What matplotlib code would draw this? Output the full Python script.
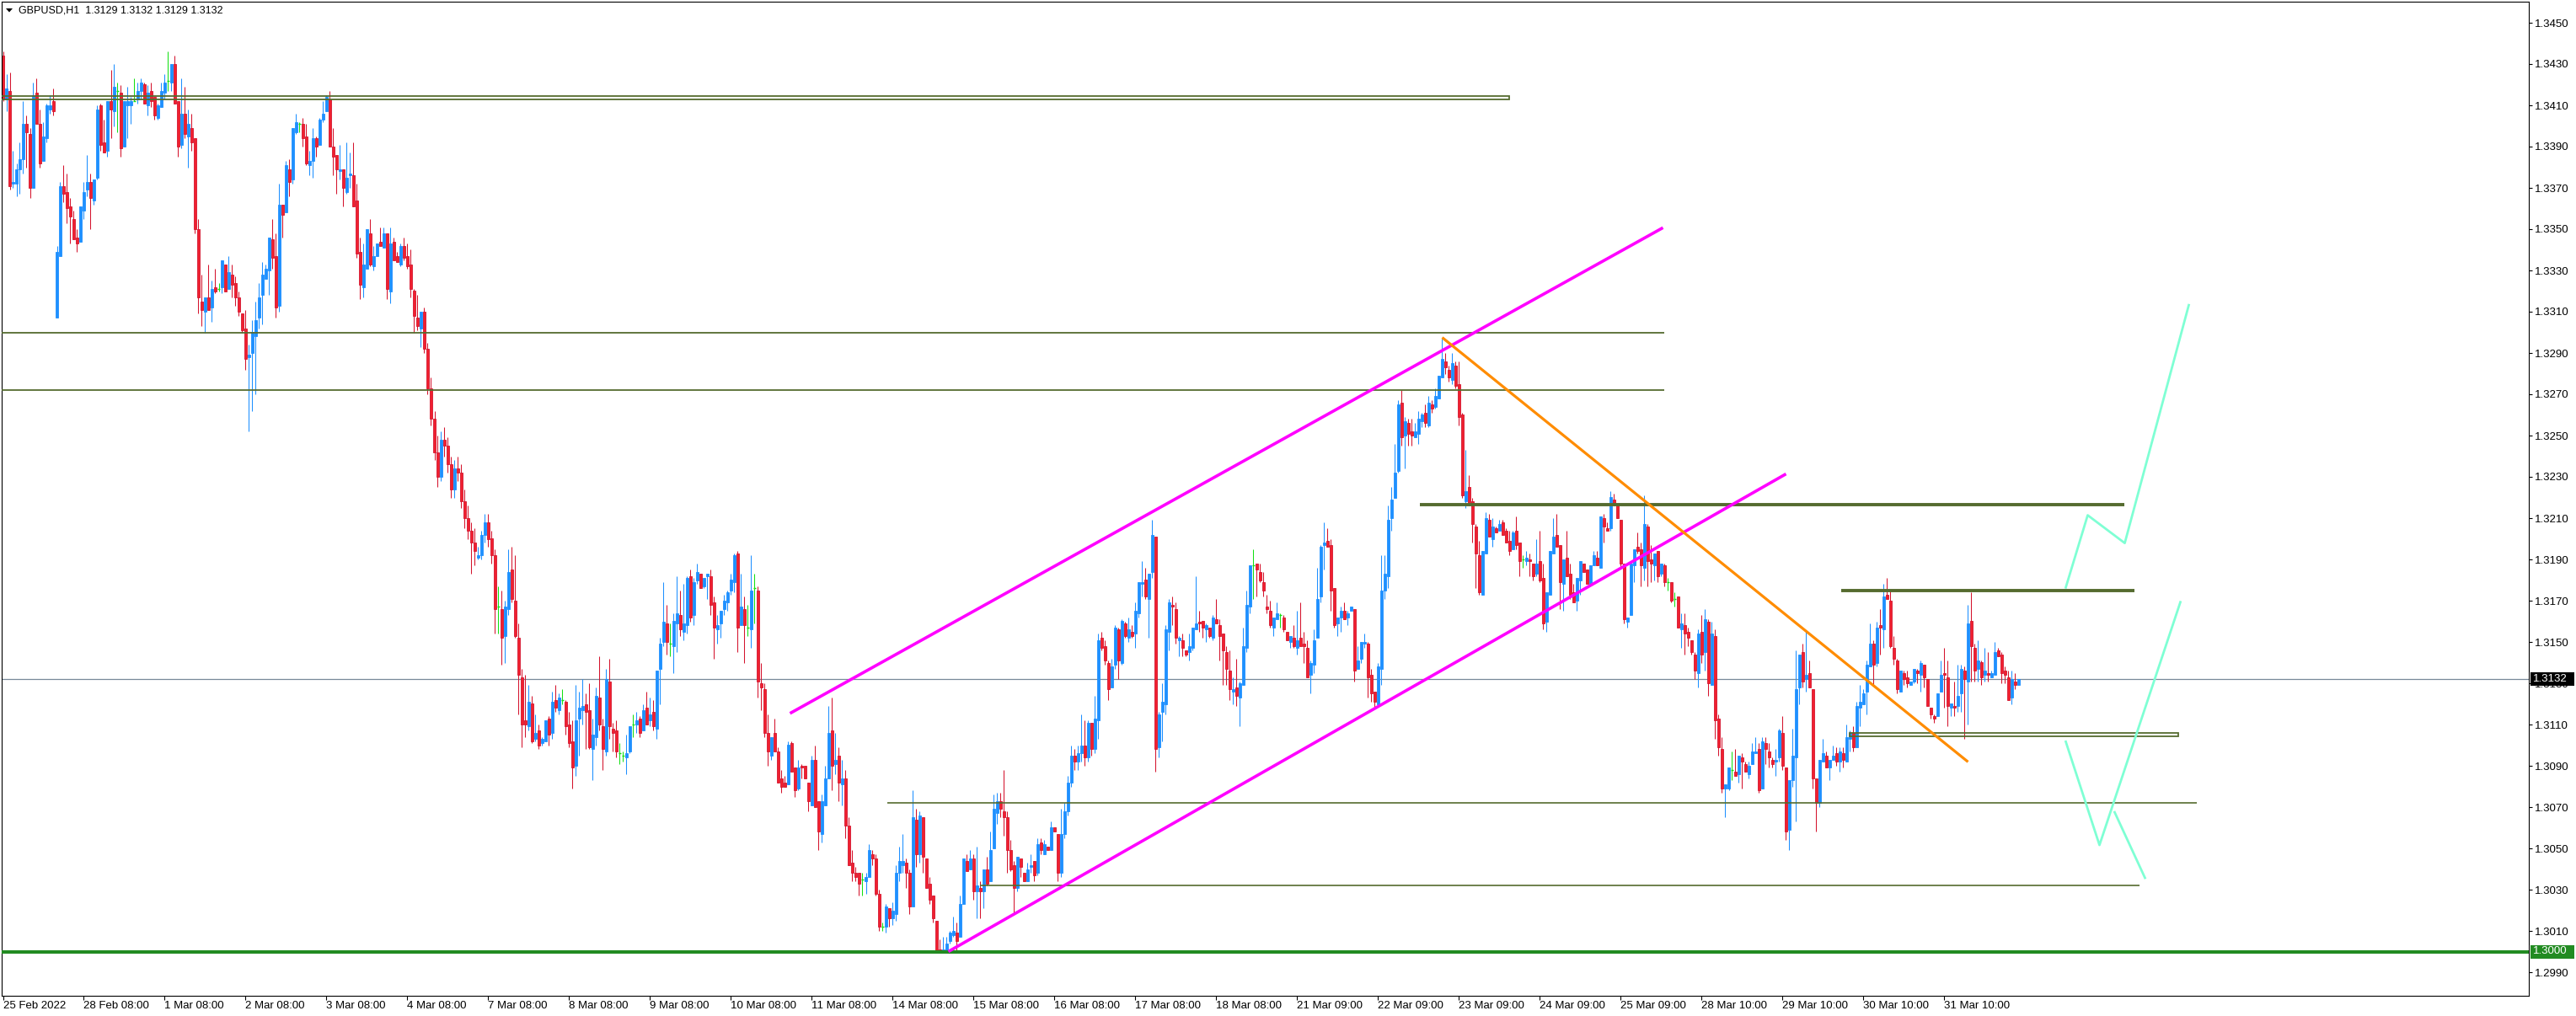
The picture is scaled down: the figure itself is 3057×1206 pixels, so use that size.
import matplotlib
matplotlib.use("Agg")
import matplotlib.pyplot as plt
import matplotlib.transforms as mtransforms
from matplotlib.patches import Rectangle, Polygon

plt.rcParams["font.family"] = ["Liberation Sans", "DejaVu Sans"]

# ====== Dados ================================================================

symbol = "GBPUSD,H1"

time_labels = [
    "25 Feb 2022", "28 Feb 08:00", "1 Mar 08:00", "2 Mar 08:00", "3 Mar 08:00",
    "4 Mar 08:00", "7 Mar 08:00", "8 Mar 08:00", "9 Mar 08:00", "10 Mar 08:00",
    "11 Mar 08:00", "14 Mar 08:00", "15 Mar 08:00", "16 Mar 08:00", "17 Mar 08:00",
    "18 Mar 08:00", "21 Mar 09:00", "22 Mar 09:00", "23 Mar 09:00", "24 Mar 09:00",
    "25 Mar 09:00", "28 Mar 10:00", "29 Mar 10:00", "30 Mar 10:00", "31 Mar 10:00",
]
bars_per_label = 24

price_ticks = [
    1.2990, 1.3010, 1.3030, 1.3050, 1.3070, 1.3090, 1.3110, 1.3130, 1.3150, 1.3170,
    1.3190, 1.3210, 1.3230, 1.3250, 1.3270, 1.3290, 1.3310, 1.3330, 1.3350, 1.3370,
    1.3390, 1.3410, 1.3430, 1.3450,
]

opens = [
    1.3434, 1.3413, 1.3417, 1.3372, 1.3372, 1.3379, 1.3384, 1.3401, 1.3396, 1.3370, 1.3416, 1.3401, 1.3383, 1.3394, 1.3408, 1.3412, 1.3307, 1.3337, 1.3371, 1.3368,
    1.3361, 1.3355, 1.3346, 1.3344, 1.3359, 1.3369, 1.3373, 1.3364, 1.3375, 1.3410, 1.3392, 1.3388, 1.3412, 1.3407, 1.3417, 1.3416, 1.3390, 1.3410, 1.3410, 1.3412,
    1.3413, 1.3417, 1.3420, 1.3410, 1.3417, 1.3414, 1.3404, 1.3409, 1.3416, 1.3422, 1.3421, 1.3430, 1.3412, 1.3391, 1.3406, 1.3395, 1.3399, 1.3394, 1.3350, 1.3315,
    1.3310, 1.3317, 1.3312, 1.3322, 1.3321, 1.3322, 1.3333, 1.3321, 1.3328, 1.3324, 1.3317, 1.3309, 1.3302, 1.3288, 1.3290, 1.3298, 1.3307, 1.3318, 1.3326, 1.3330,
    1.3345, 1.3337, 1.3313, 1.3362, 1.3358, 1.3379, 1.3374, 1.3397, 1.3401, 1.3401, 1.3395, 1.3381, 1.3383, 1.3394, 1.3391, 1.3403, 1.3407, 1.3413, 1.3390, 1.3386,
    1.3378, 1.3379, 1.3368, 1.3376, 1.3376, 1.3364, 1.3339, 1.3322, 1.3331, 1.3348, 1.3332, 1.3337, 1.3344, 1.3341, 1.3348, 1.3320, 1.3344, 1.3337, 1.3333, 1.3342,
    1.3337, 1.3333, 1.3320, 1.3307, 1.3302, 1.3310, 1.3292, 1.3273, 1.3258, 1.3242, 1.3230, 1.3248, 1.3245, 1.3236, 1.3224, 1.3234, 1.3232, 1.3218, 1.3210, 1.3204,
    1.3198, 1.3191, 1.3192, 1.3202, 1.3208, 1.3200, 1.3192, 1.3167, 1.3166, 1.3153, 1.3166, 1.3185, 1.3170, 1.3152, 1.3133, 1.3112, 1.3109, 1.3120, 1.3103, 1.3107,
    1.3101, 1.3102, 1.3113, 1.3106, 1.3122, 1.3117, 1.3122, 1.3121, 1.3110, 1.3102, 1.3090, 1.3113, 1.3117, 1.3120, 1.3117, 1.3098, 1.3104, 1.3123, 1.3109, 1.3097,
    1.3131, 1.3108, 1.3107, 1.3096, 1.3095, 1.3094, 1.3097, 1.3110, 1.3110, 1.3113, 1.3107, 1.3118, 1.3112, 1.3116, 1.3108, 1.3137, 1.3150, 1.3159, 1.3149, 1.3148,
    1.3159, 1.3163, 1.3155, 1.3158, 1.3182, 1.3163, 1.3180, 1.3183, 1.3177, 1.3182, 1.3182, 1.3169, 1.3156, 1.3159, 1.3166, 1.3169, 1.3175, 1.3179, 1.3193, 1.3158,
    1.3166, 1.3157, 1.3156, 1.3176, 1.3175, 1.3130, 1.3127, 1.3106, 1.3095, 1.3106, 1.3097, 1.3084, 1.3082, 1.3081, 1.3101, 1.3089, 1.3079, 1.3090, 1.3090, 1.3082,
    1.3071, 1.3093, 1.3073, 1.3057, 1.3071, 1.3084, 1.3107, 1.3091, 1.3095, 1.3081, 1.3084, 1.3061, 1.3043, 1.3038, 1.3038, 1.3035, 1.3034, 1.3036, 1.3047, 1.3045,
    1.3028, 1.3012, 1.3012, 1.3021, 1.3016, 1.3018, 1.3038, 1.3042, 1.3043, 1.3038, 1.3022, 1.3064, 1.3047, 1.3065, 1.3045, 1.3033, 1.3027, 1.3015, 1.3001, 1.3000,
    1.3000, 1.3005, 1.3008, 1.3009, 1.3007, 1.3023, 1.3044, 1.3040, 1.3045, 1.3029, 1.3031, 1.3029, 1.3040, 1.3034, 1.3050, 1.3067, 1.3073, 1.3068, 1.3065, 1.3049,
    1.3042, 1.3031, 1.3045, 1.3038, 1.3034, 1.3041, 1.3044, 1.3038, 1.3053, 1.3047, 1.3051, 1.3049, 1.3060, 1.3057, 1.3038, 1.3057, 1.3068, 1.3082, 1.3095, 1.3092,
    1.3096, 1.3100, 1.3094, 1.3111, 1.3098, 1.3112, 1.3152, 1.3148, 1.3140, 1.3128, 1.3139, 1.3156, 1.3140, 1.3159, 1.3152, 1.3155, 1.3154, 1.3164, 1.3178, 1.3180,
    1.3171, 1.3184, 1.3201, 1.3099, 1.3116, 1.3120, 1.3155, 1.3168, 1.3166, 1.3151, 1.3151, 1.3146, 1.3145, 1.3147, 1.3156, 1.3160, 1.3160, 1.3156, 1.3157, 1.3152,
    1.3161, 1.3158, 1.3154, 1.3145, 1.3136, 1.3126, 1.3128, 1.3123, 1.3129, 1.3147, 1.3167, 1.3187, 1.3188, 1.3184, 1.3179, 1.3167, 1.3165, 1.3157, 1.3161, 1.3163,
    1.3162, 1.3155, 1.3150, 1.3152, 1.3147, 1.3152, 1.3149, 1.3147, 1.3134, 1.3139, 1.3152, 1.3172, 1.3197, 1.3199, 1.3197, 1.3176, 1.3159, 1.3162, 1.3165, 1.3162,
    1.3165, 1.3166, 1.3137, 1.3142, 1.3149, 1.3149, 1.3134, 1.3126, 1.3120, 1.3137, 1.3175, 1.3182, 1.3210, 1.3220, 1.3233, 1.3266, 1.3250, 1.3256, 1.3252, 1.3249,
    1.3251, 1.3257, 1.3261, 1.3255, 1.3265, 1.3264, 1.3268, 1.3278, 1.3286, 1.3282, 1.3277, 1.3284, 1.3275, 1.3260, 1.3218, 1.3225, 1.3218, 1.3206, 1.3192, 1.3173,
    1.3193, 1.3209, 1.3200, 1.3205, 1.3204, 1.3208, 1.3204, 1.3199, 1.3195, 1.3204, 1.3198, 1.3190, 1.3189, 1.3190, 1.3188, 1.3183, 1.3189, 1.3181, 1.3160, 1.3173,
    1.3193, 1.3202, 1.3197, 1.3178, 1.3191, 1.3183, 1.3174, 1.3170, 1.3180, 1.3188, 1.3185, 1.3178, 1.3187, 1.3191, 1.3186, 1.3210, 1.3205, 1.3205, 1.3219, 1.3217,
    1.3209, 1.3188, 1.3160, 1.3163, 1.3187, 1.3196, 1.3195, 1.3186, 1.3206, 1.3190, 1.3187, 1.3194, 1.3183, 1.3187, 1.3179, 1.3179, 1.3171, 1.3172, 1.3156, 1.3158,
    1.3155, 1.3151, 1.3144, 1.3135, 1.3155, 1.3145, 1.3160, 1.3129, 1.3153, 1.3113, 1.3098, 1.3079, 1.3079, 1.3088, 1.3087, 1.3086, 1.3094, 1.3091, 1.3086, 1.3091,
    1.3096, 1.3098, 1.3079, 1.3101, 1.3097, 1.3093, 1.3092, 1.3094, 1.3106, 1.3089, 1.3059, 1.3083, 1.3094, 1.3128, 1.3145, 1.3132, 1.3135, 1.3127, 1.3084, 1.3072,
    1.3092, 1.3095, 1.3089, 1.3093, 1.3096, 1.3092, 1.3096, 1.3092, 1.3103, 1.3106, 1.3099, 1.3118, 1.3120, 1.3126, 1.3138, 1.3149, 1.3140, 1.3158, 1.3156, 1.3173,
    1.3170, 1.3147, 1.3141, 1.3126, 1.3135, 1.3133, 1.3129, 1.3131, 1.3136, 1.3134, 1.3139, 1.3132, 1.3118, 1.3114, 1.3114, 1.3126, 1.3135, 1.3133, 1.3118, 1.3119,
    1.3119, 1.3125, 1.3136, 1.3131, 1.3160, 1.3147, 1.3137, 1.3140, 1.3134, 1.3135, 1.3133, 1.3134, 1.3146, 1.3144, 1.3136, 1.3133, 1.3123, 1.3131, 1.3129,
]

highs = [
    1.3436, 1.3425, 1.3426, 1.3388, 1.3382, 1.3392, 1.3412, 1.3405, 1.3399, 1.3421, 1.3423, 1.3408, 1.3402, 1.3411, 1.3415, 1.3418, 1.3342, 1.3373, 1.3381, 1.3377,
    1.3365, 1.3359, 1.3350, 1.3361, 1.3373, 1.3386, 1.3377, 1.3374, 1.3410, 1.3411, 1.3403, 1.3412, 1.3427, 1.3430, 1.3421, 1.3420, 1.3412, 1.3419, 1.3414, 1.3423,
    1.3421, 1.3423, 1.3421, 1.3420, 1.3421, 1.3414, 1.3411, 1.3421, 1.3425, 1.3436, 1.3430, 1.3434, 1.3412, 1.3423, 1.3419, 1.3408, 1.3406, 1.3394, 1.3355, 1.3328,
    1.3317, 1.3333, 1.3325, 1.3331, 1.3324, 1.3335, 1.3333, 1.3337, 1.3333, 1.3327, 1.3320, 1.3309, 1.3311, 1.3294, 1.3306, 1.3315, 1.3324, 1.3334, 1.3333, 1.3346,
    1.3355, 1.3348, 1.3372, 1.3362, 1.3383, 1.3384, 1.3399, 1.3406, 1.3402, 1.3404, 1.3401, 1.3388, 1.3399, 1.3395, 1.3404, 1.3412, 1.3415, 1.3417, 1.3399, 1.3386,
    1.3391, 1.3379, 1.3392, 1.3387, 1.3392, 1.3372, 1.3346, 1.3343, 1.3350, 1.3355, 1.3342, 1.3343, 1.3351, 1.3351, 1.3348, 1.3351, 1.3346, 1.3339, 1.3343, 1.3346,
    1.3343, 1.3340, 1.3321, 1.3318, 1.3310, 1.3312, 1.3295, 1.3278, 1.3262, 1.3250, 1.3252, 1.3254, 1.3249, 1.3240, 1.3238, 1.3240, 1.3236, 1.3224, 1.3216, 1.3208,
    1.3205, 1.3196, 1.3204, 1.3212, 1.3212, 1.3204, 1.3195, 1.3177, 1.3175, 1.3170, 1.3195, 1.3196, 1.3192, 1.3159, 1.3137, 1.3134, 1.3129, 1.3124, 1.3115, 1.3110,
    1.3104, 1.3112, 1.3114, 1.3126, 1.3129, 1.3125, 1.3127, 1.3122, 1.3116, 1.3112, 1.3129, 1.3126, 1.3132, 1.3125, 1.3130, 1.3113, 1.3128, 1.3143, 1.3113, 1.3137,
    1.3142, 1.3111, 1.3112, 1.3101, 1.3097, 1.3105, 1.3109, 1.3115, 1.3116, 1.3114, 1.3120, 1.3126, 1.3123, 1.3122, 1.3136, 1.3152, 1.3179, 1.3168, 1.3159, 1.3164,
    1.3182, 1.3175, 1.3178, 1.3182, 1.3185, 1.3181, 1.3188, 1.3183, 1.3181, 1.3183, 1.3185, 1.3172, 1.3163, 1.3165, 1.3173, 1.3175, 1.3183, 1.3193, 1.3194, 1.3183,
    1.3172, 1.3168, 1.3192, 1.3183, 1.3177, 1.3140, 1.3130, 1.3115, 1.3104, 1.3113, 1.3099, 1.3088, 1.3085, 1.3102, 1.3102, 1.3089, 1.3093, 1.3091, 1.3090, 1.3082,
    1.3095, 1.3100, 1.3073, 1.3076, 1.3090, 1.3119, 1.3123, 1.3106, 1.3099, 1.3093, 1.3088, 1.3065, 1.3049, 1.3041, 1.3038, 1.3038, 1.3038, 1.3052, 1.3049, 1.3047,
    1.3030, 1.3014, 1.3023, 1.3021, 1.3024, 1.3042, 1.3051, 1.3057, 1.3045, 1.3040, 1.3078, 1.3069, 1.3068, 1.3065, 1.3045, 1.3036, 1.3027, 1.3015, 1.3006, 1.3007,
    1.3007, 1.3010, 1.3017, 1.3014, 1.3027, 1.3045, 1.3047, 1.3049, 1.3047, 1.3051, 1.3034, 1.3040, 1.3046, 1.3058, 1.3076, 1.3077, 1.3077, 1.3088, 1.3068, 1.3054,
    1.3044, 1.3046, 1.3045, 1.3038, 1.3043, 1.3047, 1.3044, 1.3055, 1.3055, 1.3054, 1.3051, 1.3063, 1.3060, 1.3057, 1.3069, 1.3072, 1.3085, 1.3100, 1.3098, 1.3100,
    1.3115, 1.3112, 1.3112, 1.3111, 1.3124, 1.3154, 1.3155, 1.3151, 1.3141, 1.3142, 1.3158, 1.3157, 1.3161, 1.3160, 1.3162, 1.3158, 1.3169, 1.3179, 1.3189, 1.3186,
    1.3183, 1.3209, 1.3201, 1.3116, 1.3130, 1.3158, 1.3171, 1.3172, 1.3169, 1.3153, 1.3154, 1.3146, 1.3154, 1.3157, 1.3182, 1.3165, 1.3160, 1.3159, 1.3157, 1.3163,
    1.3171, 1.3161, 1.3154, 1.3148, 1.3146, 1.3133, 1.3142, 1.3131, 1.3157, 1.3175, 1.3187, 1.3195, 1.3188, 1.3188, 1.3184, 1.3173, 1.3170, 1.3162, 1.3169, 1.3164,
    1.3163, 1.3155, 1.3153, 1.3158, 1.3165, 1.3169, 1.3155, 1.3151, 1.3141, 1.3156, 1.3186, 1.3197, 1.3208, 1.3205, 1.3200, 1.3176, 1.3162, 1.3167, 1.3169, 1.3165,
    1.3167, 1.3166, 1.3148, 1.3150, 1.3154, 1.3150, 1.3137, 1.3126, 1.3140, 1.3192, 1.3192, 1.3216, 1.3225, 1.3246, 1.3267, 1.3272, 1.3259, 1.3258, 1.3258, 1.3256,
    1.3262, 1.3261, 1.3265, 1.3269, 1.3267, 1.3273, 1.3279, 1.3297, 1.3290, 1.3284, 1.3290, 1.3286, 1.3286, 1.3261, 1.3243, 1.3231, 1.3220, 1.3207, 1.3199, 1.3194,
    1.3213, 1.3212, 1.3210, 1.3206, 1.3209, 1.3209, 1.3205, 1.3204, 1.3204, 1.3211, 1.3198, 1.3192, 1.3194, 1.3193, 1.3188, 1.3200, 1.3204, 1.3188, 1.3174, 1.3194,
    1.3210, 1.3212, 1.3197, 1.3190, 1.3204, 1.3188, 1.3178, 1.3181, 1.3189, 1.3188, 1.3185, 1.3187, 1.3194, 1.3194, 1.3211, 1.3212, 1.3208, 1.3223, 1.3222, 1.3217,
    1.3209, 1.3188, 1.3162, 1.3188, 1.3195, 1.3203, 1.3198, 1.3221, 1.3207, 1.3197, 1.3193, 1.3194, 1.3188, 1.3188, 1.3181, 1.3179, 1.3174, 1.3172, 1.3164, 1.3164,
    1.3157, 1.3151, 1.3145, 1.3156, 1.3163, 1.3166, 1.3161, 1.3160, 1.3156, 1.3115, 1.3104, 1.3081, 1.3089, 1.3097, 1.3098, 1.3095, 1.3096, 1.3092, 1.3092, 1.3101,
    1.3104, 1.3101, 1.3104, 1.3104, 1.3101, 1.3094, 1.3098, 1.3108, 1.3114, 1.3089, 1.3083, 1.3108, 1.3146, 1.3144, 1.3149, 1.3155, 1.3141, 1.3127, 1.3084, 1.3093,
    1.3103, 1.3097, 1.3093, 1.3100, 1.3099, 1.3099, 1.3099, 1.3110, 1.3107, 1.3109, 1.3121, 1.3129, 1.3127, 1.3141, 1.3159, 1.3151, 1.3160, 1.3166, 1.3178, 1.3181,
    1.3175, 1.3153, 1.3142, 1.3136, 1.3136, 1.3136, 1.3131, 1.3137, 1.3137, 1.3141, 1.3139, 1.3132, 1.3118, 1.3115, 1.3125, 1.3141, 1.3147, 1.3141, 1.3120, 1.3131,
    1.3139, 1.3139, 1.3138, 1.3168, 1.3174, 1.3149, 1.3151, 1.3141, 1.3147, 1.3145, 1.3136, 1.3150, 1.3147, 1.3145, 1.3138, 1.3136, 1.3136, 1.3135, 1.3132,
]

lows = [
    1.3412, 1.3407, 1.3369, 1.3370, 1.3366, 1.3367, 1.3377, 1.3380, 1.3365, 1.3370, 1.3401, 1.3380, 1.3383, 1.3392, 1.3406, 1.3405, 1.3307, 1.3337, 1.3363, 1.3353,
    1.3343, 1.3345, 1.3339, 1.3344, 1.3355, 1.3366, 1.3350, 1.3362, 1.3374, 1.3388, 1.3387, 1.3385, 1.3394, 1.3400, 1.3397, 1.3385, 1.3390, 1.3394, 1.3401, 1.3412,
    1.3411, 1.3413, 1.3411, 1.3405, 1.3409, 1.3403, 1.3403, 1.3409, 1.3413, 1.3417, 1.3417, 1.3411, 1.3385, 1.3389, 1.3394, 1.3380, 1.3388, 1.3348, 1.3309, 1.3303,
    1.3300, 1.3311, 1.3305, 1.3319, 1.3320, 1.3319, 1.3320, 1.3321, 1.3317, 1.3313, 1.3308, 1.3300, 1.3282, 1.3252, 1.3262, 1.3270, 1.3302, 1.3304, 1.3326, 1.3318,
    1.3331, 1.3307, 1.3310, 1.3346, 1.3358, 1.3366, 1.3372, 1.3396, 1.3397, 1.3390, 1.3381, 1.3376, 1.3375, 1.3385, 1.3391, 1.3402, 1.3407, 1.3390, 1.3376, 1.3367,
    1.3374, 1.3361, 1.3367, 1.3370, 1.3361, 1.3336, 1.3316, 1.3317, 1.3331, 1.3332, 1.3330, 1.3337, 1.3342, 1.3341, 1.3316, 1.3314, 1.3335, 1.3334, 1.3332, 1.3335,
    1.3331, 1.3317, 1.3300, 1.3301, 1.3293, 1.3290, 1.3270, 1.3255, 1.3238, 1.3225, 1.3228, 1.3240, 1.3232, 1.3220, 1.3220, 1.3228, 1.3215, 1.3205, 1.3200, 1.3183,
    1.3187, 1.3190, 1.3190, 1.3198, 1.3196, 1.3188, 1.3154, 1.3154, 1.3139, 1.3140, 1.3163, 1.3169, 1.3152, 1.3115, 1.3099, 1.3104, 1.3107, 1.3101, 1.3102, 1.3098,
    1.3100, 1.3102, 1.3100, 1.3103, 1.3116, 1.3115, 1.3120, 1.3105, 1.3099, 1.3079, 1.3085, 1.3095, 1.3110, 1.3098, 1.3098, 1.3083, 1.3100, 1.3107, 1.3088, 1.3095,
    1.3103, 1.3097, 1.3094, 1.3091, 1.3092, 1.3086, 1.3096, 1.3104, 1.3106, 1.3104, 1.3107, 1.3110, 1.3109, 1.3107, 1.3103, 1.3120, 1.3148, 1.3144, 1.3143, 1.3135,
    1.3145, 1.3153, 1.3151, 1.3154, 1.3160, 1.3158, 1.3178, 1.3176, 1.3176, 1.3171, 1.3163, 1.3142, 1.3149, 1.3152, 1.3163, 1.3165, 1.3173, 1.3174, 1.3145, 1.3158,
    1.3140, 1.3153, 1.3147, 1.3159, 1.3123, 1.3117, 1.3104, 1.3090, 1.3093, 1.3097, 1.3082, 1.3077, 1.3080, 1.3081, 1.3087, 1.3075, 1.3078, 1.3084, 1.3084, 1.3068,
    1.3071, 1.3070, 1.3049, 1.3053, 1.3071, 1.3084, 1.3078, 1.3086, 1.3073, 1.3071, 1.3055, 1.3042, 1.3034, 1.3034, 1.3027, 1.3027, 1.3028, 1.3036, 1.3042, 1.3027,
    1.3010, 1.3010, 1.3009, 1.3012, 1.3013, 1.3015, 1.3034, 1.3038, 1.3031, 1.3018, 1.3022, 1.3041, 1.3043, 1.3038, 1.3031, 1.3023, 1.3014, 1.3000, 1.3000, 1.3000,
    1.3000, 1.3004, 1.3007, 1.3000, 1.3007, 1.3023, 1.3039, 1.3040, 1.3025, 1.3016, 1.3016, 1.3021, 1.3032, 1.3034, 1.3050, 1.3062, 1.3065, 1.3056, 1.3038, 1.3039,
    1.3019, 1.3029, 1.3036, 1.3034, 1.3034, 1.3038, 1.3034, 1.3037, 1.3047, 1.3047, 1.3049, 1.3049, 1.3058, 1.3034, 1.3036, 1.3055, 1.3066, 1.3080, 1.3088, 1.3088,
    1.3092, 1.3090, 1.3092, 1.3095, 1.3096, 1.3103, 1.3146, 1.3139, 1.3122, 1.3128, 1.3137, 1.3132, 1.3139, 1.3152, 1.3150, 1.3152, 1.3147, 1.3162, 1.3172, 1.3171,
    1.3152, 1.3181, 1.3087, 1.3094, 1.3102, 1.3115, 1.3146, 1.3158, 1.3149, 1.3143, 1.3143, 1.3143, 1.3141, 1.3146, 1.3156, 1.3155, 1.3152, 1.3150, 1.3152, 1.3151,
    1.3159, 1.3141, 1.3129, 1.3129, 1.3122, 1.3120, 1.3119, 1.3109, 1.3129, 1.3145, 1.3164, 1.3171, 1.3172, 1.3179, 1.3172, 1.3164, 1.3157, 1.3153, 1.3161, 1.3157,
    1.3155, 1.3151, 1.3147, 1.3147, 1.3144, 1.3148, 1.3140, 1.3133, 1.3125, 1.3135, 1.3152, 1.3169, 1.3185, 1.3196, 1.3165, 1.3157, 1.3153, 1.3155, 1.3161, 1.3158,
    1.3165, 1.3131, 1.3137, 1.3140, 1.3147, 1.3123, 1.3121, 1.3118, 1.3120, 1.3129, 1.3171, 1.3176, 1.3204, 1.3220, 1.3232, 1.3245, 1.3234, 1.3245, 1.3245, 1.3249,
    1.3246, 1.3254, 1.3254, 1.3254, 1.3261, 1.3263, 1.3268, 1.3278, 1.3280, 1.3276, 1.3275, 1.3273, 1.3255, 1.3220, 1.3215, 1.3216, 1.3198, 1.3176, 1.3173, 1.3173,
    1.3193, 1.3201, 1.3196, 1.3203, 1.3204, 1.3202, 1.3198, 1.3192, 1.3195, 1.3195, 1.3182, 1.3186, 1.3187, 1.3182, 1.3180, 1.3182, 1.3179, 1.3156, 1.3155, 1.3173,
    1.3193, 1.3196, 1.3166, 1.3165, 1.3182, 1.3171, 1.3169, 1.3165, 1.3173, 1.3184, 1.3178, 1.3178, 1.3187, 1.3187, 1.3186, 1.3198, 1.3204, 1.3204, 1.3216, 1.3210,
    1.3186, 1.3159, 1.3157, 1.3163, 1.3179, 1.3193, 1.3177, 1.3180, 1.3177, 1.3179, 1.3180, 1.3179, 1.3182, 1.3177, 1.3175, 1.3169, 1.3167, 1.3157, 1.3147, 1.3144,
    1.3148, 1.3144, 1.3132, 1.3128, 1.3140, 1.3136, 1.3124, 1.3129, 1.3103, 1.3095, 1.3077, 1.3065, 1.3078, 1.3083, 1.3085, 1.3082, 1.3079, 1.3087, 1.3084, 1.3091,
    1.3096, 1.3077, 1.3079, 1.3091, 1.3089, 1.3089, 1.3085, 1.3092, 1.3088, 1.3054, 1.3049, 1.3080, 1.3063, 1.3120, 1.3128, 1.3126, 1.3128, 1.3079, 1.3058, 1.3070,
    1.3092, 1.3089, 1.3083, 1.3093, 1.3090, 1.3087, 1.3089, 1.3092, 1.3097, 1.3097, 1.3099, 1.3109, 1.3120, 1.3115, 1.3138, 1.3129, 1.3138, 1.3144, 1.3147, 1.3171,
    1.3147, 1.3139, 1.3125, 1.3126, 1.3129, 1.3128, 1.3129, 1.3130, 1.3130, 1.3126, 1.3128, 1.3119, 1.3113, 1.3111, 1.3114, 1.3126, 1.3118, 1.3109, 1.3114, 1.3114,
    1.3116, 1.3116, 1.3103, 1.3110, 1.3131, 1.3131, 1.3131, 1.3129, 1.3131, 1.3131, 1.3133, 1.3134, 1.3143, 1.3130, 1.3130, 1.3122, 1.3120, 1.3127, 1.3129,
]

closes = [
    1.3413, 1.3418, 1.3371, 1.3373, 1.3379, 1.3384, 1.3401, 1.3397, 1.3370, 1.3415, 1.3401, 1.3382, 1.3395, 1.3410, 1.3410, 1.3407, 1.3339, 1.3371, 1.3367, 1.3360,
    1.3356, 1.3345, 1.3343, 1.3361, 1.3368, 1.3373, 1.3365, 1.3374, 1.3408, 1.3391, 1.3387, 1.3412, 1.3408, 1.3419, 1.3417, 1.3389, 1.3412, 1.3412, 1.3412, 1.3412,
    1.3417, 1.3421, 1.3411, 1.3416, 1.3412, 1.3405, 1.3410, 1.3417, 1.3421, 1.3422, 1.3430, 1.3411, 1.3390, 1.3406, 1.3396, 1.3401, 1.3392, 1.3350, 1.3317, 1.3311,
    1.3317, 1.3311, 1.3321, 1.3320, 1.3321, 1.3335, 1.3320, 1.3329, 1.3323, 1.3317, 1.3310, 1.3301, 1.3287, 1.3289, 1.3300, 1.3306, 1.3317, 1.3328, 1.3331, 1.3346,
    1.3336, 1.3312, 1.3362, 1.3357, 1.3381, 1.3373, 1.3399, 1.3402, 1.3401, 1.3394, 1.3382, 1.3383, 1.3394, 1.3390, 1.3403, 1.3406, 1.3414, 1.3390, 1.3385, 1.3379,
    1.3379, 1.3370, 1.3375, 1.3377, 1.3361, 1.3338, 1.3323, 1.3333, 1.3350, 1.3333, 1.3337, 1.3343, 1.3342, 1.3348, 1.3321, 1.3343, 1.3335, 1.3334, 1.3342, 1.3336,
    1.3332, 1.3321, 1.3308, 1.3303, 1.3310, 1.3292, 1.3273, 1.3258, 1.3242, 1.3230, 1.3248, 1.3245, 1.3236, 1.3224, 1.3234, 1.3232, 1.3218, 1.3210, 1.3204, 1.3198,
    1.3194, 1.3192, 1.3202, 1.3208, 1.3200, 1.3192, 1.3166, 1.3167, 1.3152, 1.3167, 1.3184, 1.3171, 1.3153, 1.3134, 1.3110, 1.3110, 1.3121, 1.3102, 1.3106, 1.3100,
    1.3103, 1.3112, 1.3105, 1.3121, 1.3118, 1.3123, 1.3122, 1.3109, 1.3101, 1.3089, 1.3112, 1.3118, 1.3119, 1.3116, 1.3099, 1.3105, 1.3124, 1.3110, 1.3098, 1.3132,
    1.3109, 1.3106, 1.3097, 1.3096, 1.3095, 1.3096, 1.3109, 1.3110, 1.3112, 1.3106, 1.3117, 1.3110, 1.3115, 1.3109, 1.3136, 1.3149, 1.3160, 1.3150, 1.3149, 1.3160,
    1.3164, 1.3156, 1.3159, 1.3181, 1.3162, 1.3179, 1.3184, 1.3176, 1.3181, 1.3183, 1.3168, 1.3157, 1.3158, 1.3165, 1.3170, 1.3174, 1.3180, 1.3192, 1.3157, 1.3167,
    1.3158, 1.3157, 1.3175, 1.3176, 1.3131, 1.3128, 1.3106, 1.3097, 1.3104, 1.3097, 1.3082, 1.3080, 1.3080, 1.3100, 1.3087, 1.3078, 1.3089, 1.3089, 1.3084, 1.3073,
    1.3093, 1.3070, 1.3058, 1.3073, 1.3084, 1.3106, 1.3090, 1.3093, 1.3082, 1.3084, 1.3061, 1.3042, 1.3038, 1.3036, 1.3033, 1.3035, 1.3036, 1.3049, 1.3045, 1.3028,
    1.3012, 1.3012, 1.3022, 1.3016, 1.3020, 1.3038, 1.3044, 1.3044, 1.3038, 1.3022, 1.3065, 1.3047, 1.3066, 1.3046, 1.3031, 1.3025, 1.3016, 1.3000, 1.3000, 1.3001,
    1.3004, 1.3009, 1.3010, 1.3005, 1.3023, 1.3045, 1.3039, 1.3045, 1.3029, 1.3032, 1.3029, 1.3040, 1.3033, 1.3049, 1.3069, 1.3073, 1.3069, 1.3065, 1.3049, 1.3040,
    1.3031, 1.3046, 1.3041, 1.3034, 1.3040, 1.3042, 1.3037, 1.3052, 1.3049, 1.3052, 1.3049, 1.3060, 1.3058, 1.3038, 1.3057, 1.3068, 1.3082, 1.3095, 1.3092, 1.3096,
    1.3100, 1.3094, 1.3111, 1.3098, 1.3113, 1.3151, 1.3147, 1.3141, 1.3127, 1.3138, 1.3157, 1.3141, 1.3160, 1.3153, 1.3156, 1.3153, 1.3165, 1.3179, 1.3179, 1.3172,
    1.3183, 1.3202, 1.3098, 1.3115, 1.3121, 1.3156, 1.3169, 1.3167, 1.3152, 1.3152, 1.3147, 1.3144, 1.3148, 1.3157, 1.3159, 1.3159, 1.3157, 1.3158, 1.3153, 1.3162,
    1.3159, 1.3153, 1.3146, 1.3137, 1.3127, 1.3127, 1.3124, 1.3130, 1.3148, 1.3168, 1.3187, 1.3187, 1.3185, 1.3180, 1.3175, 1.3166, 1.3158, 1.3162, 1.3164, 1.3163,
    1.3156, 1.3151, 1.3153, 1.3148, 1.3151, 1.3148, 1.3148, 1.3133, 1.3140, 1.3151, 1.3171, 1.3196, 1.3198, 1.3196, 1.3175, 1.3158, 1.3162, 1.3165, 1.3161, 1.3164,
    1.3167, 1.3136, 1.3141, 1.3150, 1.3150, 1.3133, 1.3125, 1.3121, 1.3138, 1.3175, 1.3183, 1.3209, 1.3219, 1.3232, 1.3265, 1.3249, 1.3257, 1.3251, 1.3250, 1.3252,
    1.3258, 1.3260, 1.3256, 1.3266, 1.3263, 1.3269, 1.3279, 1.3287, 1.3283, 1.3278, 1.3285, 1.3274, 1.3259, 1.3221, 1.3223, 1.3217, 1.3207, 1.3193, 1.3174, 1.3194,
    1.3210, 1.3201, 1.3206, 1.3203, 1.3207, 1.3202, 1.3198, 1.3194, 1.3203, 1.3197, 1.3189, 1.3190, 1.3191, 1.3189, 1.3182, 1.3188, 1.3180, 1.3159, 1.3174, 1.3194,
    1.3201, 1.3196, 1.3179, 1.3190, 1.3182, 1.3173, 1.3169, 1.3181, 1.3189, 1.3184, 1.3178, 1.3187, 1.3192, 1.3187, 1.3211, 1.3206, 1.3204, 1.3220, 1.3217, 1.3210,
    1.3188, 1.3161, 1.3162, 1.3188, 1.3195, 1.3194, 1.3187, 1.3207, 1.3189, 1.3188, 1.3193, 1.3182, 1.3188, 1.3179, 1.3179, 1.3170, 1.3171, 1.3157, 1.3159, 1.3154,
    1.3152, 1.3145, 1.3136, 1.3154, 1.3144, 1.3161, 1.3130, 1.3154, 1.3112, 1.3099, 1.3079, 1.3081, 1.3089, 1.3088, 1.3085, 1.3095, 1.3092, 1.3087, 1.3090, 1.3097,
    1.3097, 1.3078, 1.3102, 1.3098, 1.3094, 1.3091, 1.3093, 1.3107, 1.3090, 1.3058, 1.3083, 1.3095, 1.3127, 1.3144, 1.3131, 1.3134, 1.3128, 1.3084, 1.3072, 1.3093,
    1.3096, 1.3089, 1.3093, 1.3095, 1.3092, 1.3097, 1.3093, 1.3104, 1.3106, 1.3099, 1.3119, 1.3121, 1.3125, 1.3139, 1.3149, 1.3139, 1.3157, 1.3157, 1.3172, 1.3171,
    1.3148, 1.3142, 1.3127, 1.3136, 1.3132, 1.3130, 1.3131, 1.3137, 1.3135, 1.3140, 1.3133, 1.3119, 1.3115, 1.3113, 1.3125, 1.3134, 1.3134, 1.3119, 1.3120, 1.3118,
    1.3124, 1.3137, 1.3132, 1.3159, 1.3148, 1.3136, 1.3141, 1.3133, 1.3136, 1.3134, 1.3135, 1.3145, 1.3143, 1.3135, 1.3134, 1.3122, 1.3132, 1.3129, 1.3132,
]

round_level = 1.3000

# ====== Objetos desenhados (barra, preço) ====================================

level_prices = [1.3300, 1.3272, 1.32165, 1.3175, 1.3072, 1.3032]
level_start  = [-1, -1, 420.5, 545.5, 262.5, 290]
level_end    = [493, 493, 629.5, 632.5, 651, 634]

box_low   = [1.34130, 1.31044]
box_high  = [1.34146, 1.31059]
box_start = [-1, 548]
box_end   = [447, 645.5]

channel_up_bars,  channel_up_prices  = [233.5, 492.5], [1.31154, 1.33507]
channel_low_bars, channel_low_prices = [280.5, 529], [1.3000, 1.32314]
down_line_bars,   down_line_prices   = [427, 583], [1.32975, 1.30919]

path_a_bars, path_a_prices = [612, 618.5, 629.5, 648.5], [1.31764, 1.32114, 1.31979, 1.33132]
path_b_bars, path_b_prices = [612, 622, 646], [1.31017, 1.30516, 1.31693]
path_c_bars, path_c_prices = [626.5, 635.5], [1.30675, 1.30357]

# ====== Figura ===============================================================

W, H, DPI = 3057, 1206, 100
fig = plt.figure(figsize=(W / DPI, H / DPI), dpi=DPI)
left, right, top, bottom = 2, 3001, 2, 1182
ax = fig.add_axes([left / W, 1 - bottom / H, (right - left) / W, (bottom - top) / H])

px_per_bar = 4.0
px_per_price = 24500.0
ax.set_xlim((left - 3.5) / px_per_bar, (right - 3.5) / px_per_bar)
ax.set_ylim(1.3450 - (bottom - 27) / px_per_price, 1.3450 + (27 - top) / px_per_price)

BULL, BEAR, BEAR_FILL, DOJI = "#1E90FF", "#D4142E", "#F0202F", "#14E014"
OLIVE = "#556B2F"

# linha bid
ax.axhline(closes[-1], color="#778899", lw=0.9, zorder=1)

# candles
min_body = 1.0 / px_per_price
for i, (o, h, l, c) in enumerate(zip(opens, highs, lows, closes)):
    if c > o:
        edge, face = BULL, BULL
    elif c < o:
        edge, face = BEAR, BEAR_FILL
    else:
        edge, face = DOJI, DOJI
    ax.vlines(i, min(l, o, c), max(h, o, c), color=edge, lw=0.75, zorder=2)
    if c == o:
        ax.hlines(o, i - 0.4, i + 0.4, color=edge, lw=1.0, zorder=2)
    else:
        ax.add_patch(Rectangle((i - 0.3, min(o, c)), 0.6, max(abs(c - o), min_body),
                               facecolor=face, edgecolor=edge, lw=0.6, zorder=2))

# níveis horizontais
level_width = [1.3, 1.3, 2.8, 2.8, 1.2, 1.2]
for p, s, e, w in zip(level_prices, level_start, level_end, level_width):
    ax.hlines(p, s, e, color=OLIVE, lw=w, zorder=3)

for lo, hi, s, e in zip(box_low, box_high, box_start, box_end):
    ax.add_patch(Rectangle((s, lo), e - s, hi - lo, fill=False, edgecolor=OLIVE, lw=1.3, zorder=3))

ax.axhline(round_level, color="#228B22", lw=2.9, zorder=3)

# linhas de tendência
ax.plot(channel_up_bars, channel_up_prices, color="#FF00FF", lw=2.6, zorder=4, solid_capstyle="butt")
ax.plot(channel_low_bars, channel_low_prices, color="#FF00FF", lw=2.6, zorder=4, solid_capstyle="butt")
ax.plot(down_line_bars, down_line_prices, color="#FF8C00", lw=2.3, zorder=4, solid_capstyle="butt")

for xs, ys in [(path_a_bars, path_a_prices), (path_b_bars, path_b_prices), (path_c_bars, path_c_prices)]:
    ax.plot(xs, ys, color="#7FFFD4", lw=2.0, zorder=4)

# ====== Eixos ================================================================

for s in ax.spines.values():
    s.set_color("black")
    s.set_linewidth(0.8)

ax.yaxis.tick_right()
ax.set_yticks(price_ticks)
ax.set_yticklabels([f"{p:.4f}" for p in price_ticks])
ax.tick_params(axis="y", direction="out", length=3, width=0.8, pad=2, labelsize=9.5, colors="black")

label_bars = [k * bars_per_label for k in range(len(time_labels))]
ax.set_xticks(label_bars)
ax.set_xticklabels(time_labels, ha="left")
ax.tick_params(axis="x", direction="out", length=3.5, width=0.8, pad=1, labelsize=9.5, colors="black")
for t in ax.get_xticklabels():
    t.set_fontfamily(["Liberation Sans Narrow", "Liberation Sans", "DejaVu Sans"])


def price_tag(price, face):
    y = ax.transData.transform((0, price))[1]
    fig.add_artist(Rectangle((right + 2, y - 8), 52, 16, transform=mtransforms.IdentityTransform(),
                             facecolor=face, edgecolor="none", zorder=5))
    fig.text((right + 5) / W, y / H, f"{price:.4f}", color="white", fontsize=9.5,
             va="center", ha="left", zorder=6)


price_tag(closes[-1], "black")
price_tag(round_level, "#228B22")

# cabeçalho
fig.add_artist(Polygon([(7, H - 10), (15, H - 10), (11, H - 14.5)], closed=True,
                       transform=mtransforms.IdentityTransform(), facecolor="black", edgecolor="none"))
header = f"{symbol}  {opens[-1]:.4f} {highs[-1]:.4f} {lows[-1]:.4f} {closes[-1]:.4f}"
fig.text(22 / W, 1 - 12.5 / H, header, fontsize=9, va="center", ha="left", color="black")

fig.savefig("out.png", dpi=DPI, facecolor="white")
